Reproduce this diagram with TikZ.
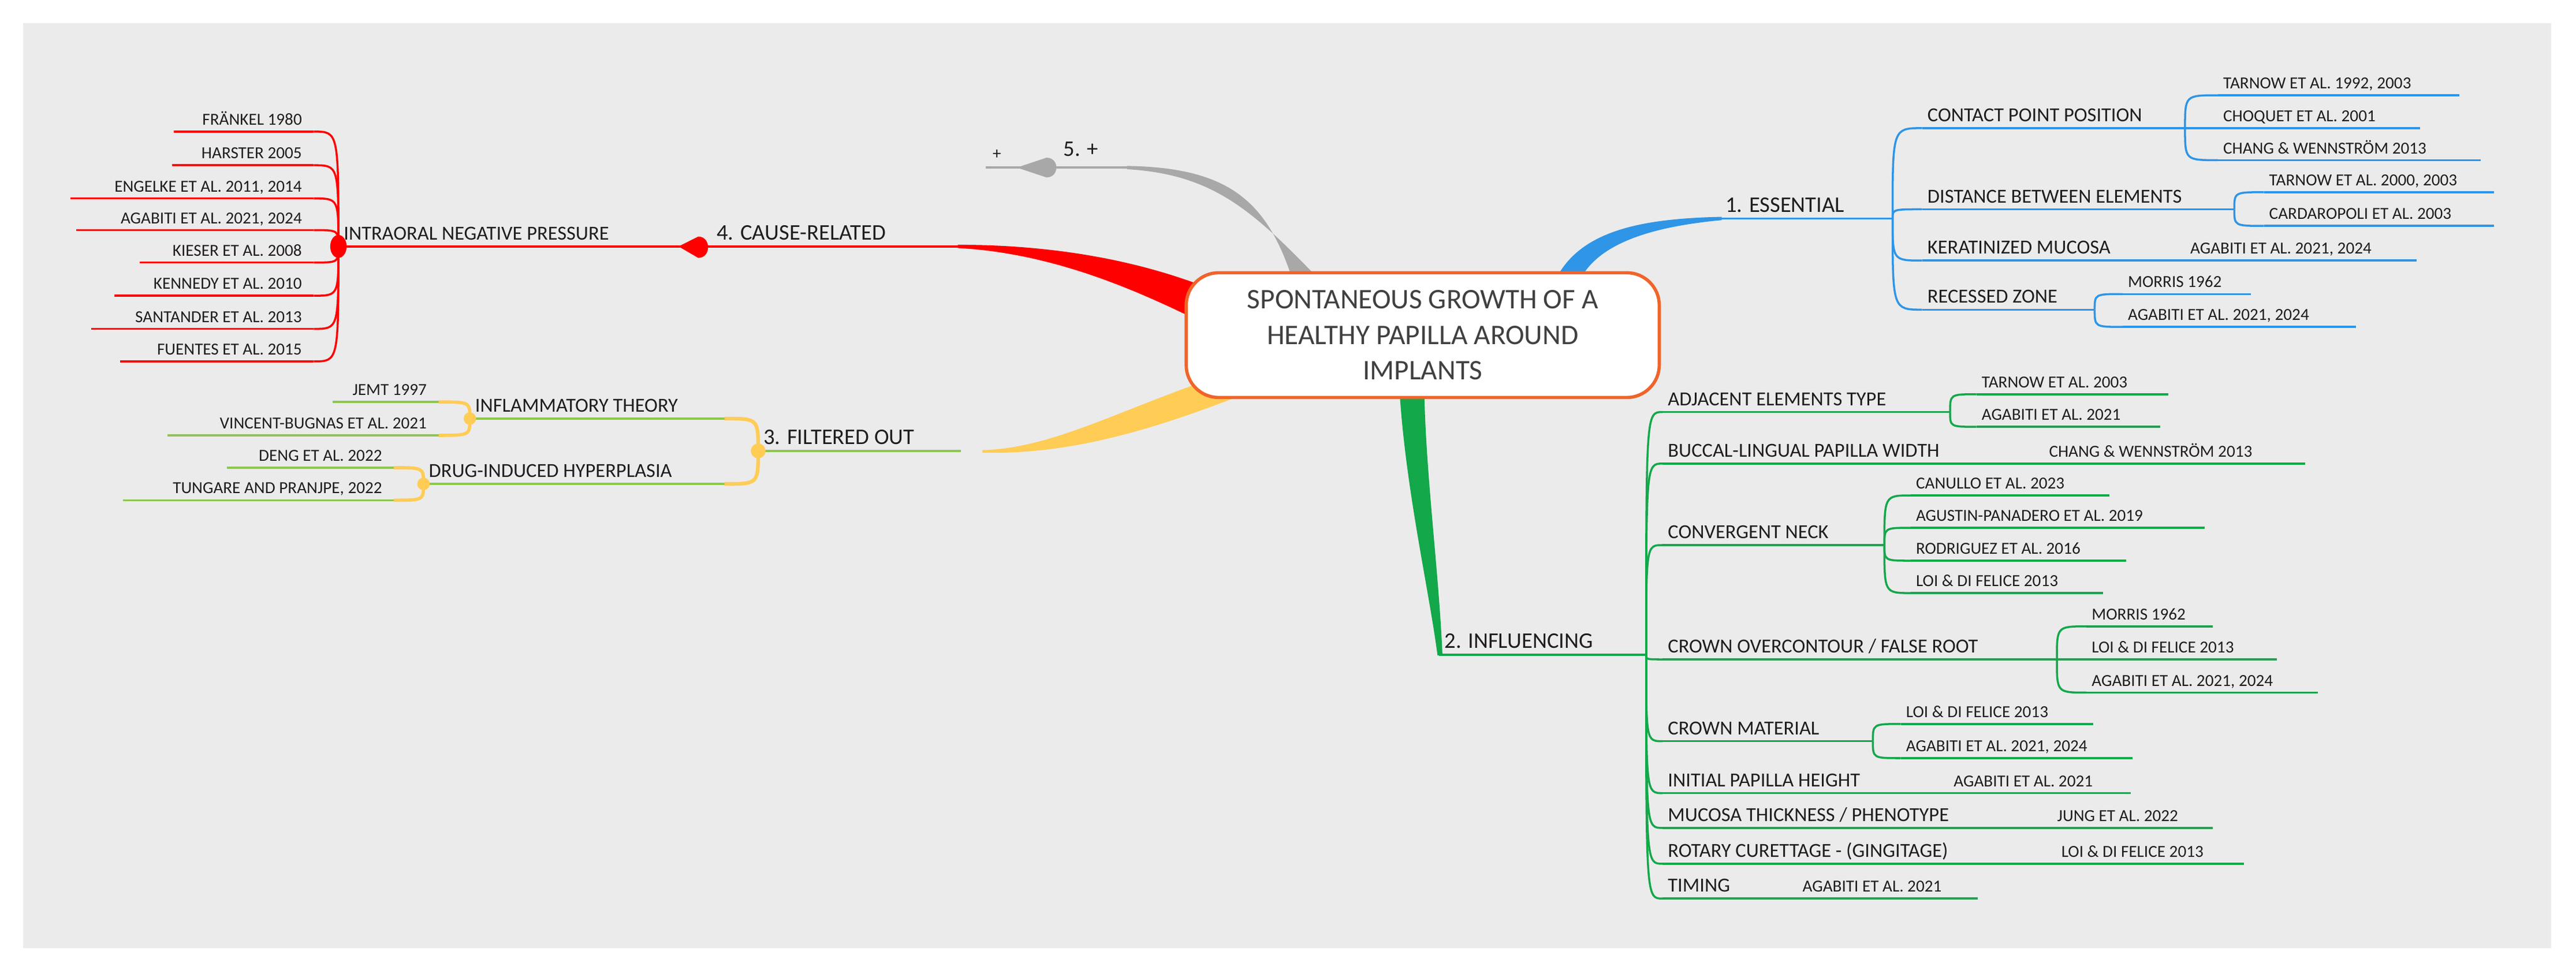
\documentclass[tikz,border=0pt]{standalone}
\usepackage{fontspec}
\setmainfont{Carlito}
\usetikzlibrary{calc}
\definecolor{bg}{HTML}{EBEBEB}
\definecolor{bl}{HTML}{2F95E6}
\definecolor{gr}{HTML}{13A84A}
\definecolor{rd}{HTML}{FF0000}
\definecolor{yl}{HTML}{FFCC55}
\definecolor{lg}{HTML}{8DC64F}
\definecolor{gy}{HTML}{A8A8A8}
\definecolor{orr}{HTML}{F0642A}
\definecolor{tx}{HTML}{1E1E1E}
\tikzset{
 leaf/.style={font=\fontsize{8.3}{10}\selectfont, text=tx, inner sep=0pt},
 mid/.style={font=\fontsize{9.8}{12}\selectfont, text=tx, inner sep=0pt},
 br/.style={font=\fontsize{11}{13}\selectfont, text=tx, inner sep=0pt},
 uln/.style={line width=1pt},
}
\newcommand\ul[7]{\coordinate (#1s) at (#3,#5); \coordinate (#1e) at (#4,#5);
 \draw[#2,uln] (#1s) -- (#1e);
 \node[#6,anchor=base west] (#1) at (#3+3,#5-4) {#7};}
\newcommand\ulL[7]{\coordinate (#1s) at (#3,#5); \coordinate (#1e) at (#4,#5);
 \draw[#2,uln] (#1s) -- (#1e);
 \node[#6,anchor=base east] (#1) at (#4-7,#5-4) {#7};}
\newcommand\cn[3]{\draw[#1] (#2) .. controls (#2 |- #3) .. (#3);}
\newcommand\refn[4]{\node[leaf,anchor=base west] (#1) at (#2,#3-4) {#4};}
\begin{document}
\begin{tikzpicture}[x=0.02845cm,y=-0.02845cm]
\useasboundingbox (0,0) rectangle (1568,587.7);
\fill[white] (0,0) rectangle (1568,587.7);
\fill[bg] (14,14) rectangle (1553,577);

% thick branches
\fill[bl] (947,170) .. controls (962,140) and (1000,133) .. (1048,132) -- (1048,134) .. controls (1005,138) and (975,148) .. (963,168) -- cycle;
\fill[gy] (786,168) .. controls (770,120) and (745,102) .. (686,101) -- (686,103) .. controls (738,106) and (762,128) .. (800,167) -- cycle;
\fill[rd] (732,174) .. controls (690,158) and (640,149) .. (583,149) -- (583,151) .. controls (640,154) and (690,176) .. (727,194) -- cycle;
\fill[yl] (742,229) .. controls (680,250) and (640,273) .. (598,274) -- (598,275.5) .. controls (650,277) and (700,262) .. (752,242) -- cycle;
\fill[gr] (852,240) .. controls (856,300) and (870,360) .. (875,399) -- (878,399) .. controls (876,350) and (868,290) .. (867,240) -- cycle;

% center
\node[draw=orr,line width=1.6pt,fill=white,rounded corners=16pt,minimum width=8.19cm,minimum height=2.16cm,align=center,text=black!75,font=\fontsize{14}{17.5}\selectfont] (root) at (866,204) {SPONTANEOUS GROWTH OF A\\HEALTHY PAPILLA AROUND\\IMPLANTS};

% blue
\ul{ess}{bl}{1047}{1152}{133}{br}{1. ESSENTIAL}
\ul{cpp}{bl}{1170}{1330}{78}{mid}{CONTACT POINT POSITION}
\ul{tta}{bl}{1350}{1497}{58}{leaf}{TARNOW ET AL. 1992, 2003}
\ul{cho}{bl}{1350}{1473}{78}{leaf}{CHOQUET ET AL. 2001}
\ul{chg}{bl}{1350}{1510}{97.5}{leaf}{CHANG \& WENNSTRÖM 2013}
\ul{dbe}{bl}{1170}{1360}{127.4}{mid}{DISTANCE BETWEEN ELEMENTS}
\ul{ttb}{bl}{1378}{1518}{117}{leaf}{TARNOW ET AL. 2000, 2003}
\ul{car}{bl}{1378}{1518}{137.5}{leaf}{CARDAROPOLI ET AL. 2003}
\ul{ker}{bl}{1170}{1471}{158.6}{mid}{KERATINIZED MUCOSA}
\refn{kerr}{1333}{158.6}{AGABITI ET AL. 2021, 2024}
\ul{rec}{bl}{1170}{1275}{188.5}{mid}{RECESSED ZONE}
\ul{moa}{bl}{1292}{1370}{179}{leaf}{MORRIS 1962}
\ul{aga}{bl}{1292}{1434}{199}{leaf}{AGABITI ET AL. 2021, 2024}
\foreach \c in {cpps,dbes,kers,recs}{\cn{bl,uln}{esse}{\c}}
\foreach \c in {ttas,chos,chgs}{\cn{bl,uln}{cppe}{\c}}
\foreach \c in {ttbs,cars}{\cn{bl,uln}{dbee}{\c}}
\foreach \c in {moas,agas}{\cn{bl,uln}{rece}{\c}}

% green
\ul{inf}{gr}{876}{1002}{398.6}{br}{2. INFLUENCING}
\ul{adj}{gr}{1012}{1187}{250.8}{mid}{ADJACENT ELEMENTS TYPE}
\ul{tnc}{gr}{1203}{1320}{240}{leaf}{TARNOW ET AL. 2003}
\ul{agb}{gr}{1203}{1315}{259.8}{leaf}{AGABITI ET AL. 2021}
\ul{buc}{gr}{1012}{1403}{282.2}{mid}{BUCCAL-LINGUAL PAPILLA WIDTH}
\refn{bucr}{1247}{282.2}{CHANG \& WENNSTRÖM 2013}
\ul{cnv}{gr}{1012}{1147}{331.8}{mid}{CONVERGENT NECK}
\ul{can}{gr}{1163}{1284}{301.6}{leaf}{CANULLO ET AL. 2023}
\ul{agu}{gr}{1163}{1342}{321.3}{leaf}{AGUSTIN-PANADERO ET AL. 2019}
\ul{rod}{gr}{1163}{1294}{341.3}{leaf}{RODRIGUEZ ET AL. 2016}
\ul{loa}{gr}{1163}{1280}{361}{leaf}{LOI \& DI FELICE 2013}
\ul{cro}{gr}{1012}{1252}{401.4}{mid}{CROWN OVERCONTOUR / FALSE ROOT}
\ul{mob}{gr}{1270}{1347}{381.3}{leaf}{MORRIS 1962}
\ul{lob}{gr}{1270}{1386}{401.4}{leaf}{LOI \& DI FELICE 2013}
\ul{agc}{gr}{1270}{1411}{421.6}{leaf}{AGABITI ET AL. 2021, 2024}
\ul{cmt}{gr}{1012}{1140}{451.2}{mid}{CROWN MATERIAL}
\ul{loc}{gr}{1157}{1274}{440.7}{leaf}{LOI \& DI FELICE 2013}
\ul{agd}{gr}{1157}{1298}{461.5}{leaf}{AGABITI ET AL. 2021, 2024}
\ul{iph}{gr}{1012}{1297}{482.8}{mid}{INITIAL PAPILLA HEIGHT}
\refn{iphr}{1189}{482.8}{AGABITI ET AL. 2021}
\ul{muc}{gr}{1012}{1347}{504}{mid}{MUCOSA THICKNESS / PHENOTYPE}
\refn{mucr}{1252}{504}{JUNG ET AL. 2022}
\ul{rot}{gr}{1012}{1366}{525.8}{mid}{ROTARY CURETTAGE - (GINGITAGE)}
\refn{rotr}{1254.5}{525.8}{LOI \& DI FELICE 2013}
\ul{tim}{gr}{1012}{1204}{547}{mid}{TIMING}
\refn{timr}{1097}{547}{AGABITI ET AL. 2021}
\foreach \c in {adjs,bucs,cnvs,cros,cmts,iphs,mucs,rots,tims}{\cn{gr,uln}{infe}{\c}}
\foreach \c in {tncs,agbs}{\cn{gr,uln}{adje}{\c}}
\foreach \c in {cans,agus,rods,loas}{\cn{gr,uln}{cnve}{\c}}
\foreach \c in {mobs,lobs,agcs}{\cn{gr,uln}{croe}{\c}}
\foreach \c in {locs,agds}{\cn{gr,uln}{cmte}{\c}}

% red
\ul{cau}{rd}{433}{583}{150}{br}{4. CAUSE-RELATED}
\ul{inp}{rd}{206}{412}{150}{mid}{INTRAORAL NEGATIVE PRESSURE}
\draw[rd,uln] (inpe) -- (caus);
\fill[rd] (413,150) -- (425,144) .. controls (433,144) and (433,157) .. (425,157) -- cycle;
\ulL{fra}{rd}{105.7}{191}{80.1}{leaf}{FRÄNKEL 1980}
\ulL{har}{rd}{104.7}{191}{100.6}{leaf}{HARSTER 2005}
\ulL{eng}{rd}{42.8}{191}{120.8}{leaf}{ENGELKE ET AL. 2011, 2014}
\ulL{agr}{rd}{46.4}{191}{140.1}{leaf}{AGABITI ET AL. 2021, 2024}
\ulL{kie}{rd}{85}{191}{159.8}{leaf}{KIESER ET AL. 2008}
\ulL{ken}{rd}{69.6}{191}{180}{leaf}{KENNEDY ET AL. 2010}
\ulL{san}{rd}{55.7}{191}{200.2}{leaf}{SANTANDER ET AL. 2013}
\ulL{fue}{rd}{73.2}{191}{220}{leaf}{FUENTES ET AL. 2015}
\foreach \c in {frae,hare,enge,agre,kiee,kene,sane,fuee}{\cn{rd,uln}{inps}{\c}}
\fill[rd] (206,150) ellipse [x radius=5, y radius=7];

% yellow
\ul{fil}{lg}{461.5}{585}{274.5}{br}{3. FILTERED OUT}
\ul{ift}{lg}{286}{441}{254.8}{mid}{INFLAMMATORY THEORY}
\ul{dru}{lg}{257.8}{441}{294.6}{mid}{DRUG-INDUCED HYPERPLASIA}
\ulL{jem}{lg}{202.6}{267}{244.7}{leaf}{JEMT 1997}
\ulL{vin}{lg}{102}{267}{265}{leaf}{VINCENT-BUGNAS ET AL. 2021}
\ulL{den}{lg}{138}{239.8}{284.7}{leaf}{DENG ET AL. 2022}
\ulL{tun}{lg}{74.8}{239.8}{304.5}{leaf}{TUNGARE AND PRANJPE, 2022}
\foreach \c in {ifte,drue}{\cn{yl,line width=1.8pt}{fils}{\c}}
\foreach \c in {jeme,vine}{\cn{yl,line width=1.6pt}{ifts}{\c}}
\foreach \c in {dene,tune}{\cn{yl,line width=1.6pt}{drus}{\c}}
\fill[yl] (fils) circle [radius=4.5];
\fill[yl] (ifts) circle [radius=3.8];
\fill[yl] (drus) circle [radius=3.8];

% gray
\coordinate (g0) at (686,102);
\coordinate (g1) at (600,102);
\draw[gy,uln] (g0) -- (g1);
\fill[gy] (619,102) -- (637,96) .. controls (645,96) and (645,108) .. (637,108) -- cycle;
\node[br,anchor=base west] (five) at (647,95) {5. +};
\node[leaf,anchor=base west] (plus) at (604,97) {+};
\end{tikzpicture}
\end{document}
